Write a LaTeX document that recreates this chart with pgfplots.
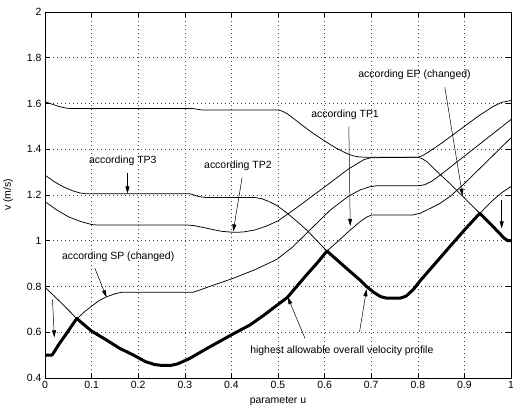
\documentclass[border=0pt]{standalone}
\usepackage{fontspec}
\setmainfont{Liberation Sans}
\usepackage{pgfplots}
\pgfplotsset{compat=1.18}
\usetikzlibrary{arrows.meta}

\begin{document}
\begin{tikzpicture}[font=\fontsize{10.5}{12}\selectfont]
\begin{axis}[
  width=466bp, height=366bp, scale only axis,
  xmin=0, xmax=1, ymin=0.4, ymax=2,
  xtick={0,0.1,0.2,0.3,0.4,0.5,0.6,0.7,0.8,0.9,1},
  xticklabels={0,0.1,0.2,0.3,0.4,0.5,0.6,0.7,0.8,0.9,1},
  ytick={0.4,0.6,0.8,1,1.2,1.4,1.6,1.8,2},
  yticklabels={0.4,0.6,0.8,1,1.2,1.4,1.6,1.8,2},
  /pgf/number format/assume math mode=true,
  ticklabel style={font=\fontsize{10.5}{12}\selectfont},
  grid=major,
  major grid style={black!75, line width=0.5bp, dash pattern=on 0.6bp off 3.4bp},
  axis line style={line width=0.9bp},
  tick style={black, line width=0.6bp},
  tick align=inside,
  major tick length=5bp,
  xlabel={parameter u}, ylabel={v (m/s)},
  xlabel style={at={(axis description cs:0.5,-0.064)}, anchor=center},
  ylabel style={at={(axis description cs:-0.079,0.5)}, anchor=center},
  thin/.style={black, line width=0.75bp, line join=round},
  every node/.append style={font=\fontsize{10.5}{12}\selectfont},
]
% EP (top curve)
\addplot[thin] coordinates {
(0,1.608) (0.015,1.597) (0.03,1.587) (0.047,1.579) (0.06,1.578) (0.318,1.578)
(0.326,1.575) (0.336,1.572) (0.5,1.572) (0.51,1.566) (0.52,1.555) (0.535,1.532)
(0.55,1.508) (0.575,1.47) (0.6,1.436) (0.625,1.405) (0.647,1.382) (0.66,1.372)
(0.675,1.366) (0.69,1.365) (0.8,1.365) (0.81,1.358) (0.82,1.345) (0.84,1.305)
(0.87,1.248) (0.9,1.187) (0.933,1.12) (0.96,1.065) (0.985,1.012) (0.993,1.0) (1,1.0)};
% TP3
\addplot[thin] coordinates {
(0,1.287) (0.02,1.258) (0.04,1.235) (0.06,1.218) (0.075,1.209) (0.09,1.205)
(0.311,1.205) (0.32,1.2) (0.33,1.193) (0.345,1.189) (0.45,1.189) (0.465,1.184)
(0.48,1.172) (0.497,1.155) (0.515,1.128) (0.533,1.098) (0.55,1.068) (0.565,1.04)
(0.585,0.997) (0.605,0.955) (0.63,0.91) (0.655,0.865) (0.675,0.83) (0.69,0.8)
(0.705,0.775) (0.72,0.756) (0.733,0.749) (0.762,0.749) (0.775,0.758) (0.79,0.786)
(0.805,0.825) (0.837,0.9) (0.869,0.975) (0.9,1.047) (0.933,1.12) (0.96,1.175)
(0.98,1.21) (1,1.237)};
% TP2
\addplot[thin] coordinates {
(0,1.171) (0.025,1.135) (0.05,1.105) (0.075,1.085) (0.1,1.071) (0.11,1.069)
(0.304,1.069) (0.32,1.066) (0.34,1.058) (0.36,1.049) (0.38,1.041) (0.404,1.037)
(0.425,1.038) (0.45,1.047) (0.475,1.064) (0.5,1.087) (0.533,1.134) (0.6,1.235)
(0.65,1.312) (0.67,1.337) (0.685,1.355) (0.7,1.363) (0.8,1.365) (0.81,1.372)
(0.82,1.384) (0.85,1.425) (0.9,1.5) (0.93,1.545) (0.96,1.585) (0.98,1.605) (1,1.613)};
% SP
\addplot[thin] coordinates {
(0,0.5) (0.015,0.5) (0.02,0.515) (0.03,0.548) (0.047,0.597) (0.068,0.658)
(0.085,0.69) (0.1,0.714) (0.115,0.737) (0.132,0.755) (0.15,0.768) (0.165,0.775)
(0.318,0.775) (0.333,0.785) (0.36,0.805) (0.404,0.836) (0.45,0.873) (0.497,0.918)
(0.53,0.97) (0.565,1.04) (0.59,1.09) (0.612,1.134) (0.65,1.193) (0.676,1.222)
(0.697,1.236) (0.71,1.24) (0.8,1.24) (0.815,1.245) (0.83,1.26) (0.85,1.29)
(0.9,1.37) (0.95,1.45) (0.975,1.49) (1,1.53)};
% TP1
\addplot[thin] coordinates {
(0,0.797) (0.034,0.73) (0.068,0.66) (0.1,0.605) (0.132,0.566) (0.16,0.53)
(0.19,0.5) (0.215,0.472) (0.235,0.459) (0.25,0.455) (0.27,0.455) (0.285,0.462)
(0.31,0.485) (0.35,0.532) (0.404,0.593) (0.44,0.632) (0.47,0.675) (0.497,0.717)
(0.52,0.752) (0.54,0.8) (0.561,0.85) (0.585,0.905) (0.605,0.955) (0.63,1.0)
(0.655,1.047) (0.676,1.083) (0.69,1.103) (0.701,1.113) (0.79,1.113) (0.805,1.12)
(0.82,1.135) (0.845,1.16) (0.869,1.193) (0.9,1.25) (0.93,1.31) (0.96,1.37)
(0.98,1.41) (1,1.45)};
% highest allowable overall velocity profile
\addplot[black, line width=3bp, line join=round] coordinates {
(0,0.5) (0.015,0.5) (0.02,0.515) (0.03,0.548) (0.047,0.597) (0.068,0.66)
(0.1,0.605) (0.132,0.566) (0.16,0.53) (0.19,0.5) (0.215,0.472) (0.235,0.459)
(0.25,0.455) (0.27,0.455) (0.285,0.462) (0.31,0.485) (0.35,0.532) (0.404,0.593)
(0.44,0.632) (0.47,0.675) (0.497,0.717) (0.52,0.752) (0.54,0.8) (0.561,0.85)
(0.585,0.905) (0.605,0.955) (0.63,0.91) (0.655,0.865) (0.675,0.83) (0.69,0.8)
(0.705,0.775) (0.72,0.756) (0.733,0.749) (0.762,0.749) (0.775,0.758) (0.79,0.786)
(0.805,0.825) (0.837,0.9) (0.869,0.975) (0.9,1.047) (0.933,1.12) (0.96,1.065)
(0.985,1.012) (0.993,1.0) (1,1.0)};

\node at (axis cs:0.167,1.35) {according TP3};
\node at (axis cs:0.414,1.328) {according TP2};
\node at (axis cs:0.644,1.55) {according TP1};
\node at (axis cs:0.793,1.726) {according EP (changed)};
\node at (axis cs:0.157,0.93) {according SP (changed)};
\node at (axis cs:0.637,0.519) {highest allowable overall velocity profile};

\begin{scope}[line width=0.5bp, -{Triangle[length=7bp,width=4bp]}]
\draw (axis cs:0.177,1.295) -- (axis cs:0.177,1.207);
\draw (axis cs:0.423,1.277) -- (axis cs:0.404,1.041);
\draw (axis cs:0.652,1.499) -- (axis cs:0.655,1.065);
\draw (axis cs:0.858,1.671) -- (axis cs:0.896,1.197);
\draw (axis cs:0.98,1.178) -- (axis cs:0.98,1.054);
\draw (axis cs:0.107,0.88) -- (axis cs:0.132,0.753);
\draw (axis cs:0.016,0.744) -- (axis cs:0.02,0.578);
\draw (axis cs:0.558,0.573) -- (axis cs:0.521,0.753);
\draw (axis cs:0.675,0.602) -- (axis cs:0.69,0.788);
\end{scope}
\end{axis}
\pgfresetboundingbox
\path[use as bounding box] (current axis.south west) ++(-45bp,-30bp) rectangle ++(513bp,408bp);
\end{tikzpicture}
\end{document}
